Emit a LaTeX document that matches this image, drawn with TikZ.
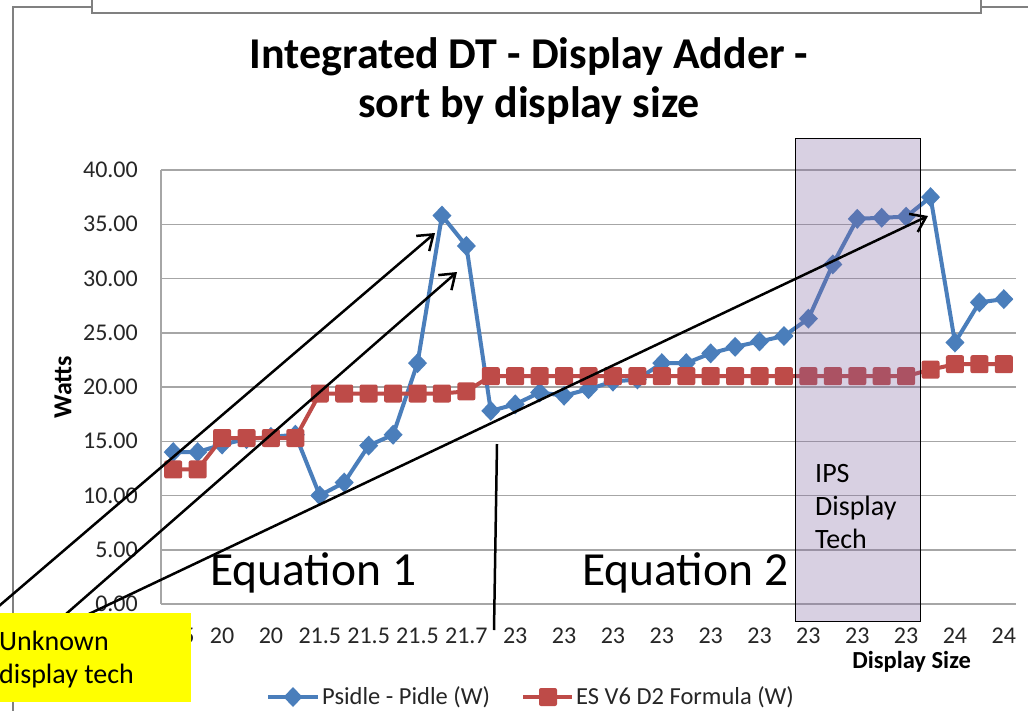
\documentclass[tikz,border=0pt]{standalone}
\usepackage{fontspec}
\setmainfont{Carlito}
\usetikzlibrary{arrows.meta}
\definecolor{sblue}{HTML}{4A7EBB}
\definecolor{sred}{HTML}{BE4B48}
\definecolor{gridc}{HTML}{A6A6A6}
\definecolor{framec}{HTML}{808080}
\definecolor{ipsc}{HTML}{8064A2}
\definecolor{ylw}{HTML}{FFFF00}
\def\bdata{0/14.0,1/14.0,2/14.7,3/15.2,4/15.4,5/15.6,6/10.0,7/11.2,8/14.6,9/15.6,10/22.2,11/35.8,12/33.0,13/17.8,14/18.4,15/19.5,16/19.2,17/19.8,18/20.5,19/20.7,20/22.2,21/22.2,22/23.1,23/23.7,24/24.2,25/24.7,26/26.3,27/31.3,28/35.5,29/35.6,30/35.7,31/37.5,32/24.1,33/27.8,34/28.1}
\def\rdata{0/12.4,1/12.4,2/15.3,3/15.3,4/15.3,5/15.3,6/19.4,7/19.4,8/19.4,9/19.4,10/19.4,11/19.4,12/19.6,13/21.0,14/21.0,15/21.0,16/21.0,17/21.0,18/21.0,19/21.0,20/21.0,21/21.0,22/21.0,23/21.0,24/21.0,25/21.0,26/21.0,27/21.0,28/21.0,29/21.0,30/21.0,31/21.6,32/22.1,33/22.1,34/22.1}
\begin{document}
\begin{tikzpicture}[x=1pt,y=-1pt,
  frame/.style={draw=framec,line width=2pt},
  gridline/.style={draw=gridc,line width=1.5pt},
  ticklab/.style={inner sep=0pt,font=\fontsize{24}{28}\selectfont,text=black!85},
  leglab/.style={inner sep=0pt,font=\fontsize{24.5}{28}\selectfont,text=black!85},
  bluemk/.style={fill=sblue},
  redmk/.style={fill=sred,rounded corners=2pt},
  pointer/.style={draw=black,line width=2.5pt,-{Straight Barb[length=14pt,width=20pt,line width=2.5pt]}},
  bigtext/.style={inner sep=0pt,anchor=base west,font=\fontsize{47.5}{52}\selectfont},
  midtext/.style={inner sep=0pt,anchor=base west,font=\fontsize{28}{33}\selectfont}]
\useasboundingbox (0,0) rectangle (1028,710);
\clip (0,0) rectangle (1028,710);
\fill[white] (0,0) rectangle (1028,710);
% chart frame
\draw[frame] (13,712) -- (13,7) -- (92,7);
\draw[frame] (981,7) -- (1030,7);
\draw[frame,fill=white] (92,-3) -- (92,13) -- (981,13) -- (981,-3);
% title
\node[inner sep=0pt,anchor=base,font=\fontsize{44}{52}\selectfont\bfseries] (t1) at (529,68) {Integrated DT - Display Adder -};
\node[inner sep=0pt,anchor=base,font=\fontsize{44}{52}\selectfont\bfseries] (t2) at (529,117) {sort by display size};
% grid and y labels
\foreach \v in {0,5,...,40}{
  \draw[gridline] (161,{604-\v*10.85}) -- (1016,{604-\v*10.85});
  \node[ticklab,anchor=east] (y\v) at (138,{604-\v*10.85}) {\v.00};
}
\draw[gridline] (161,170) -- (161,604);
% x labels
\foreach \k/\lab in {0/19.5,1/20,2/20,3/21.5,4/21.5,5/21.5,6/21.7,7/23,8/23,9/23,10/23,11/23,12/23,13/23,14/23,15/23,16/24,17/24}{
  \node[ticklab] (x\k) at ({173.2+48.86*\k},636) {\lab};
}
\node[inner sep=0pt,rotate=90,font=\fontsize{26}{30}\selectfont\bfseries] (ytitle) at (63,387) {Watts};
\node[inner sep=0pt,anchor=east,font=\fontsize{24.5}{28}\selectfont\bfseries] (xtitle) at (971,662) {Display Size};
% series
\begin{scope}[shift={(173.215,604)},x=24.43pt,y=10.85pt]
  \draw[sblue,line width=4pt,line join=round] (0,14.0) \foreach \i/\v in \bdata {-- (\i,\v)};
  \foreach \i/\v in \bdata {\fill[bluemk] (\i,\v) ++(0pt,10pt) -- ++(9.5pt,-10pt) -- ++(-9.5pt,-10pt) -- ++(-9.5pt,10pt) -- cycle;}
  \draw[sred,line width=4pt,line join=round] (0,12.4) \foreach \i/\v in \rdata {-- (\i,\v)};
  \foreach \i/\v in \rdata {\fill[redmk] (\i,\v) ++(-9pt,-9pt) rectangle ++(18pt,18pt);}
\end{scope}
% IPS overlay
\draw[black,line width=1pt,fill=ipsc,fill opacity=0.3] (795,138) rectangle (920,621);
\node[midtext] (ips1) at (815,482) {IPS};
\node[midtext] (ips2) at (815,515) {Display};
\node[midtext] (ips3) at (815,548) {Tech};
% equations
\node[bigtext] (eq1) at (210,585) {Equation 1};
\node[bigtext] (eq2) at (582,585) {Equation 2};
% pointers
\coordinate (s1) at (-8,612);
\coordinate (e1) at (435,233);
\coordinate (s2) at (58,621);
\coordinate (e2) at (457,272);
\coordinate (s3) at (72,622);
\coordinate (e3) at (928,216);
\coordinate (v1) at (497,444);
\coordinate (v2) at (494,630);
\draw[pointer] (s1) -- (e1);
\draw[pointer] (s2) -- (e2);
\draw[pointer] (s3) -- (e3);
\draw[black,line width=2.5pt] (v1) -- (v2);
% yellow note
\fill[ylw] (0,613) rectangle (191,702);
\node[midtext] (u1) at (-1,650) {Unknown};
\node[midtext] (u2) at (-1,683) {display tech};
% legend
\draw[sblue,line width=4pt] (268,697) -- (318,697);
\fill[bluemk] (293,687) -- (302.5,697) -- (293,707) -- (283.5,697) -- cycle;
\node[leglab,anchor=west] (l1) at (322,697) {Psidle - Pidle (W)};
\draw[sred,line width=4pt] (523,697) -- (572,697);
\fill[redmk] (539,688) rectangle (557,706);
\node[leglab,anchor=west] (l2) at (576,697) {ES V6 D2 Formula (W)};
\end{tikzpicture}
\end{document}
